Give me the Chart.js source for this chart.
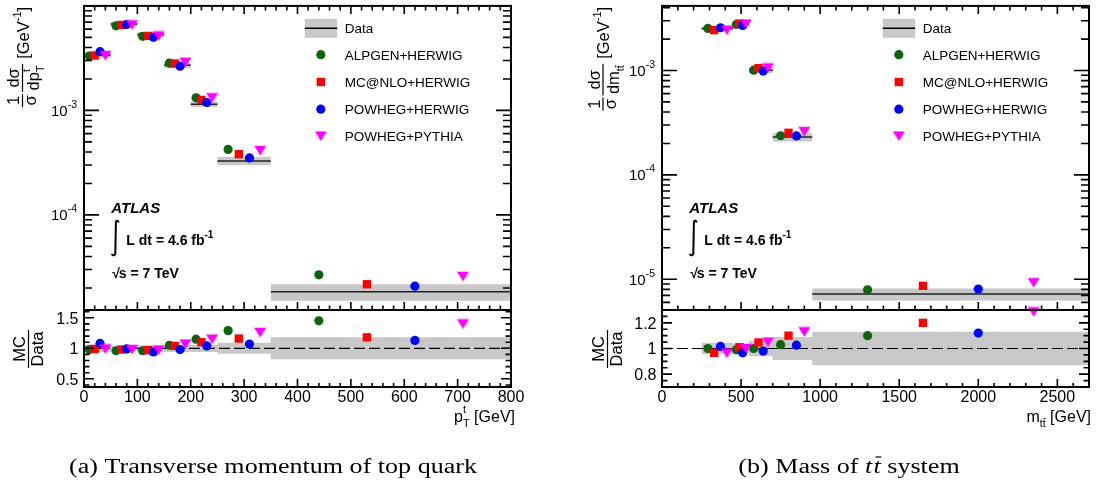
<!DOCTYPE html>
<html>
<head>
<meta charset="utf-8">
<script src="https://cdn.jsdelivr.net/npm/chart.js@4.4.1/dist/chart.umd.min.js"></script>
<style>
  html, body { margin:0; padding:0; background:#ffffff; }
  #wrap { position:relative; width:1096px; height:485px; overflow:hidden; background:#ffffff; }
  #wrap canvas { position:absolute; left:0; top:0; }
</style>
</head>
<body>
<div id="wrap">
  <canvas id="ptMain" width="1096" height="485"></canvas>
  <canvas id="ptRatio" width="1096" height="485"></canvas>
  <canvas id="mttMain" width="1096" height="485"></canvas>
  <canvas id="mttRatio" width="1096" height="485"></canvas>
</div>
<script>
// ---------------- data ----------------
const GENERATORS = ['ALPGEN+HERWIG', 'MC@NLO+HERWIG', 'POWHEG+HERWIG', 'POWHEG+PYTHIA'];
const MARKER_OFFSETS = [0.2, 0.4, 0.6, 0.8];   // position of each generator inside a bin

// (a) top quark transverse momentum
const PT_EDGES = [0, 50, 100, 150, 200, 250, 350, 800];
const PT_DATA = [3.38e-3, 6.71e-3, 5.32e-3, 2.70e-3, 1.146e-3, 3.28e-4, 1.84e-5];
const PT_DATA_UNC = [0.06, 0.04, 0.05, 0.06, 0.06, 0.09, 0.18];
const PT_ALPGEN_HERWIG = [3.31e-3, 6.44e-3, 5.11e-3, 2.84e-3, 1.32e-3, 4.23e-4, 2.67e-5];
const PT_MCNLO_HERWIG  = [3.35e-3, 6.58e-3, 5.16e-3, 2.81e-3, 1.26e-3, 3.81e-4, 2.17e-5];
const PT_POWHEG_HERWIG = [3.65e-3, 6.64e-3, 5.00e-3, 2.65e-3, 1.19e-3, 3.51e-4, 2.08e-5];
const PT_POWHEG_PYTHIA = [3.35e-3, 6.58e-3, 5.16e-3, 2.89e-3, 1.32e-3, 4.13e-4, 2.58e-5];
const PT_RATIO_ALPGEN_HERWIG = [0.98, 0.96, 0.96, 1.05, 1.15, 1.29, 1.45];
const PT_RATIO_MCNLO_HERWIG  = [0.99, 0.98, 0.97, 1.04, 1.10, 1.16, 1.18];
const PT_RATIO_POWHEG_HERWIG = [1.08, 0.99, 0.94, 0.98, 1.04, 1.07, 1.13];
const PT_RATIO_POWHEG_PYTHIA = [0.99, 0.98, 0.97, 1.07, 1.15, 1.26, 1.40];
const PT_X_TICKS = [0, 100, 200, 300, 400, 500, 600, 700, 800];
const PT_Y_DECADES = [-3, -4];
const PT_RATIO_TICKS = [0.5, 1, 1.5];

// (b) ttbar invariant mass
const MTT_EDGES = [250, 450, 550, 700, 950, 2700];
const MTT_DATA = [2.53e-3, 2.79e-3, 1.007e-3, 2.30e-4, 7.2e-6];
const MTT_DATA_UNC = [0.045, 0.035, 0.06, 0.09, 0.13];
const MTT_ALPGEN_HERWIG = [2.53e-3, 2.76e-3, 1.007e-3, 2.37e-4, 7.92e-6];
const MTT_MCNLO_HERWIG  = [2.44e-3, 2.82e-3, 1.054e-3, 2.53e-4, 8.64e-6];
const MTT_POWHEG_HERWIG = [2.57e-3, 2.70e-3, 0.987e-3, 2.36e-4, 8.06e-6];
const MTT_POWHEG_PYTHIA = [2.44e-3, 2.79e-3, 1.057e-3, 2.60e-4, 9.26e-6];
const MTT_RATIO_ALPGEN_HERWIG = [1.00, 0.99, 1.00, 1.03, 1.10];
const MTT_RATIO_MCNLO_HERWIG  = [0.966, 1.01, 1.047, 1.10, 1.20];
const MTT_RATIO_POWHEG_HERWIG = [1.016, 0.966, 0.98, 1.026, 1.12];
const MTT_RATIO_POWHEG_PYTHIA = [0.964, 1.00, 1.05, 1.13, 1.286];
const MTT_X_TICKS = [0, 500, 1000, 1500, 2000, 2500];
const MTT_Y_DECADES = [-3, -4, -5];
const MTT_RATIO_TICKS = [0.8, 1, 1.2];

const RATIO_REFERENCE = 1;

// ---------------- styling ----------------
const W = 1096, H = 485;
const SANS = '"Liberation Sans", Arial, Helvetica, sans-serif';
const SERIF = '"Liberation Serif", "Times New Roman", serif';
const BAND = '#c8c8c8';

const TRI = (() => {
  const c = document.createElement('canvas'); c.width = 13; c.height = 11;
  const g = c.getContext('2d'); g.fillStyle = '#ff00ff';
  g.beginPath(); g.moveTo(0.5, 0.7); g.lineTo(12.5, 0.7); g.lineTo(6.5, 10.6); g.closePath(); g.fill();
  return c;
})();
const STYLES = [
  { color: '#0b650b', pointStyle: 'circle', radius: 4.6 },
  { color: '#ff0000', pointStyle: 'rect', radius: 5.9 },
  { color: '#0000ff', pointStyle: 'circle', radius: 4.6 },
  { color: '#ff00ff', pointStyle: TRI, radius: 5.5 }
];

function fnt(size, weight, style, family) {
  return `${style || 'normal'} ${weight || 'normal'} ${size}px ${family || SANS}`;
}
// rich text run: items {text,size,dy,weight,style,family,overbar,after} or {sup,sub,size,supDy,subDy}
function run(ctx, items, x, y, draw) {
  let cx = x;
  for (const it of items) {
    if (it.sup !== undefined || it.sub !== undefined) {
      ctx.font = fnt(it.size || 10, it.weight, it.style, it.family);
      let w = 0;
      if (it.sup) { const ww = ctx.measureText(it.sup).width; if (draw) ctx.fillText(it.sup, cx, y + (it.supDy ?? -7)); w = Math.max(w, ww); }
      if (it.sub) { const ww = ctx.measureText(it.sub).width; if (draw) ctx.fillText(it.sub, cx, y + (it.subDy ?? 4)); w = Math.max(w, ww); }
      cx += w + (it.after || 0);
    } else {
      const size = it.size || 15;
      ctx.font = fnt(size, it.weight, it.style, it.family);
      const ww = ctx.measureText(it.text).width;
      const yy = y + (it.dy || 0);
      if (draw) {
        ctx.fillText(it.text, cx, yy);
        if (it.overbar) {
          const lw = ctx.measureText(it.text.slice(-1)).width;
          ctx.save(); ctx.lineWidth = Math.max(0.8, size * 0.06); ctx.strokeStyle = '#000';
          ctx.beginPath();
          ctx.moveTo(cx + ww - lw + size * 0.08, yy - size * 0.8);
          ctx.lineTo(cx + ww + size * 0.02, yy - size * 0.8);
          ctx.stroke(); ctx.restore();
        }
      }
      cx += ww + (it.after || 0);
    }
  }
  return cx - x;
}
function frac(ctx, num, den, x, denDy, draw) {
  const wn = run(ctx, num, 0, 0, false), wd = run(ctx, den, 0, 0, false);
  const w = Math.max(wn, wd) + 3;
  if (draw) {
    run(ctx, num, x + (w - wn) / 2, -3.5, true);
    run(ctx, den, x + (w - wd) / 2, denDy, true);
    ctx.save(); ctx.lineWidth = 1.2; ctx.strokeStyle = '#000';
    ctx.beginPath(); ctx.moveTo(x, 0); ctx.lineTo(x + w, 0); ctx.stroke(); ctx.restore();
  }
  return w;
}
function drawMarker(ctx, st, x, y) {
  ctx.save();
  ctx.fillStyle = st.color;
  if (st.pointStyle instanceof HTMLCanvasElement) {
    ctx.drawImage(st.pointStyle, x - st.pointStyle.width / 2, y - st.pointStyle.height / 2);
  } else if (st.pointStyle === 'rect') {
    const s = st.radius * Math.SQRT1_2;
    ctx.fillRect(x - s, y - s, 2 * s, 2 * s);
  } else {
    ctx.beginPath(); ctx.arc(x, y, st.radius, 0, Math.PI * 2); ctx.fill();
  }
  ctx.restore();
}

// ---------------- dataset builders ----------------
function stepBand(edges, center, unc, sign) {
  const pts = [];
  for (let i = 0; i < unc.length; i++) {
    const c = Array.isArray(center) ? center[i] : center;
    const y = c * (1 + sign * unc[i]);
    pts.push({ x: edges[i], y }, { x: edges[i + 1], y });
  }
  return pts;
}
function segments(edges, vals) {
  const pts = [];
  for (let i = 0; i < vals.length; i++) {
    pts.push({ x: edges[i], y: vals[i] }, { x: edges[i + 1], y: vals[i] }, { x: edges[i + 1], y: null });
  }
  return pts;
}
function markerPoints(edges, vals, g) {
  return vals.map((v, i) => ({ x: edges[i] + MARKER_OFFSETS[g] * (edges[i + 1] - edges[i]), y: v }));
}
function bandDatasets(upper, lower) {
  return [
    { data: upper, fill: '+1', backgroundColor: BAND, borderWidth: 0, pointRadius: 0, order: 10 },
    { data: lower, fill: false, borderWidth: 0, pointRadius: 0, order: 11 }
  ];
}
function markerDatasets(edges, series) {
  return series.map((vals, g) => ({
    label: GENERATORS[g],
    data: markerPoints(edges, vals, g),
    showLine: false,
    pointStyle: STYLES[g].pointStyle,
    pointRadius: STYLES[g].radius,
    pointHoverRadius: STYLES[g].radius,
    pointBackgroundColor: STYLES[g].color,
    pointBorderWidth: 0,
    borderWidth: 0,
    clip: false,
    order: 4 - g
  }));
}

// ---------------- panels ----------------
const PANELS = [
  {
    main: 'ptMain', ratio: 'ptRatio', L: 84, R: 511,
    edges: PT_EDGES, data: PT_DATA, unc: PT_DATA_UNC,
    mc: [PT_ALPGEN_HERWIG, PT_MCNLO_HERWIG, PT_POWHEG_HERWIG, PT_POWHEG_PYTHIA],
    rat: [PT_RATIO_ALPGEN_HERWIG, PT_RATIO_MCNLO_HERWIG, PT_RATIO_POWHEG_HERWIG, PT_RATIO_POWHEG_PYTHIA],
    xMax: 800, xMajor: 100, xMinor: 20, xTicks: PT_X_TICKS,
    yMin: 1.23e-5, yMax: 1e-2, decades: PT_Y_DECADES,
    rMin: 0.366, rMax: 1.628, rMajor: 0.5, rMinor: 0.1, rTicks: PT_RATIO_TICKS,
    titleCx: 22.5, ratioTitleCx: 28.5,
    den2: [{ text: 'dp', size: 16.5 }, { sup: 't', sub: 'T', size: 11, supDy: -8.5, subDy: 5 }],
    xTitle: [{ text: 'p', size: 16 }, { sup: 't', sub: 'T', size: 11, supDy: -9, subDy: 5 }, { text: ' [GeV]', size: 16 }],
    xTitleRight: 515,
    caption: [{ text: '(a) Transverse momentum of top quark', family: SERIF, size: 20 }],
    captionCx: 273
  },
  {
    main: 'mttMain', ratio: 'mttRatio', L: 662, R: 1089,
    edges: MTT_EDGES, data: MTT_DATA, unc: MTT_DATA_UNC,
    mc: [MTT_ALPGEN_HERWIG, MTT_MCNLO_HERWIG, MTT_POWHEG_HERWIG, MTT_POWHEG_PYTHIA],
    rat: [MTT_RATIO_ALPGEN_HERWIG, MTT_RATIO_MCNLO_HERWIG, MTT_RATIO_POWHEG_HERWIG, MTT_RATIO_POWHEG_PYTHIA],
    xMax: 2700, xMajor: 500, xMinor: 100, xTicks: MTT_X_TICKS,
    yMin: 5.07e-6, yMax: 4.16e-3, decades: MTT_Y_DECADES,
    rMin: 0.7, rMax: 1.3, rMajor: 0.2, rMinor: 0.05, rTicks: MTT_RATIO_TICKS,
    titleCx: 603, ratioTitleCx: 607.5,
    den2: [{ text: 'dm', size: 16.5 }, { text: 'tt', size: 10.5, dy: 5, overbar: true }],
    xTitle: [{ text: 'm', size: 16 }, { text: 'tt', size: 10.5, dy: 5, overbar: true }, { text: ' [GeV]', size: 16 }],
    xTitleRight: 1091,
    caption: [
      { text: '(b) Mass of ', family: SERIF, size: 20 },
      { text: 't', family: SERIF, size: 20, style: 'italic', after: 1 },
      { text: 't', family: SERIF, size: 20, style: 'italic', overbar: true },
      { text: ' system', family: SERIF, size: 20 }
    ],
    captionCx: 849
  }
];
const CAPTION_A = PANELS[0].caption;
const CAPTION_A_WIDTH = 408;
const T_MAIN = 4, Y_SPLIT = 310, B_RATIO = 387;

function isMultiple(v, step) { return Math.abs(v / step - Math.round(v / step)) < 1e-6; }

function xTickMarks(ctx, xs, P, a, top, bottom, maj, min) {
  for (let v = 0; v <= P.xMax + 1e-9; v += P.xMinor) {
    const px = xs.getPixelForValue(v);
    const len = isMultiple(v, P.xMajor) ? maj : min;
    if (top) { ctx.moveTo(px, a.top); ctx.lineTo(px, a.top + len); }
    if (bottom) { ctx.moveTo(px, a.bottom); ctx.lineTo(px, a.bottom - len); }
  }
}

function mainDecor(P) {
  return {
    id: 'mainDecor',
    afterDatasetsDraw(chart) {
      const ctx = chart.ctx, a = chart.chartArea, xs = chart.scales.x, ys = chart.scales.y;
      const Wd = a.right - a.left;
      ctx.save();
      ctx.fillStyle = '#000'; ctx.strokeStyle = '#000';
      ctx.textAlign = 'left'; ctx.textBaseline = 'alphabetic';
      // frame
      ctx.lineWidth = 2;
      ctx.strokeRect(a.left, a.top, a.right - a.left, a.bottom - a.top);
      // ticks
      ctx.lineWidth = 1.6;
      ctx.beginPath();
      xTickMarks(ctx, xs, P, a, true, true, 8, 4.5);
      const e0 = Math.floor(Math.log10(P.yMin)), e1 = Math.ceil(Math.log10(P.yMax));
      for (let e = e0; e <= e1; e++) {
        for (let k = 1; k <= 9; k++) {
          const v = k * Math.pow(10, e);
          if (v < P.yMin * 0.9999 || v > P.yMax * 1.0001) continue;
          const py = ys.getPixelForValue(v);
          const len = k === 1 ? 15 : 8;
          ctx.moveTo(a.left, py); ctx.lineTo(a.left + len, py);
          ctx.moveTo(a.right, py); ctx.lineTo(a.right - len, py);
        }
      }
      ctx.stroke();
      // y labels 10^e
      for (const e of P.decades) {
        const py = ys.getPixelForValue(Math.pow(10, e));
        if (py < a.top + 4 || py > a.bottom - 2) continue;
        const items = [{ text: '10', size: 15 }, { sup: String(e), size: 10.5, supDy: -8 }];
        const w = run(ctx, items, 0, 0, false);
        run(ctx, items, a.left - 7 - w, py + 5.5, true);
      }
      // y title
      const seq = (draw) => {
        let x = 0;
        x += frac(ctx, [{ text: '1', size: 16.5 }], [{ text: 'σ', size: 16.5 }], x, 13, draw);
        x += 2;
        x += frac(ctx, [{ text: 'dσ', size: 16.5 }], P.den2, x, 16, draw);
        x += 5;
        x += run(ctx, [{ text: '[GeV', size: 16.5 }, { sup: '-1', size: 11, supDy: -8 }, { text: ']', size: 16.5 }], x, 6, draw);
        return x;
      };
      const total = seq(false);
      ctx.save(); ctx.translate(P.titleCx, a.top + 1 + total); ctx.rotate(-Math.PI / 2); seq(true); ctx.restore();
      // legend
      const bx0 = a.left + 0.517 * Wd, bx1 = a.left + 0.593 * Wd;
      const mx = a.left + 0.5546 * Wd, tx = a.left + 0.6105 * Wd;
      ctx.fillStyle = BAND; ctx.fillRect(bx0, 18.8, bx1 - bx0, 19);
      ctx.strokeStyle = '#000'; ctx.lineWidth = 1.5;
      ctx.beginPath(); ctx.moveTo(bx0, 28.3); ctx.lineTo(bx1, 28.3); ctx.stroke();
      ctx.fillStyle = '#000';
      ctx.font = fnt(13.5);
      ctx.fillText('Data', tx, 28.3 + 5);
      const rows = [54.7, 82, 109.2, 136.1];
      GENERATORS.forEach((name, g) => {
        drawMarker(ctx, STYLES[g], mx, rows[g]);
        ctx.fillStyle = '#000'; ctx.font = fnt(13.5);
        ctx.fillText(name, tx, rows[g] + 5);
      });
      // ATLAS label
      const ax = a.left + 0.064 * Wd;
      ctx.font = fnt(15, 'bold', 'italic');
      ctx.fillText('ATLAS', ax, 213);
      // integral sign
      const ix = a.left + 0.071 * Wd;
      ctx.lineWidth = 2; ctx.beginPath();
      ctx.moveTo(ix + 4.4, 222.5);
      ctx.quadraticCurveTo(ix + 3.2, 219.5, ix + 1.6, 221.5);
      ctx.lineTo(ix + 1.0, 253.5);
      ctx.quadraticCurveTo(ix - 0.5, 257, ix - 2.8, 254);
      ctx.stroke();
      run(ctx, [{ text: 'L dt = 4.6 fb', size: 14, weight: 'bold' }, { sup: '-1', size: 10, weight: 'bold', supDy: -7 }],
        a.left + 0.0992 * Wd, 245, true);
      run(ctx, [{ text: '√', size: 14, weight: 'bold', after: -1 }, { text: 's = 7 TeV', size: 14, weight: 'bold' }],
        a.left + 0.066 * Wd, 278, true);
      ctx.restore();
    }
  };
}

function ratioDecor(P) {
  return {
    id: 'ratioDecor',
    afterDatasetsDraw(chart) {
      const ctx = chart.ctx, a = chart.chartArea, xs = chart.scales.x, ys = chart.scales.y;
      ctx.save();
      ctx.fillStyle = '#000'; ctx.strokeStyle = '#000';
      ctx.textAlign = 'left'; ctx.textBaseline = 'alphabetic';
      ctx.lineWidth = 2;
      ctx.strokeRect(a.left, a.top, a.right - a.left, a.bottom - a.top);
      ctx.lineWidth = 1.6;
      ctx.beginPath();
      xTickMarks(ctx, xs, P, a, false, true, 8, 4);
      const start = Math.ceil(P.rMin / P.rMinor - 1e-6);
      for (let k = start; k * P.rMinor <= P.rMax + 1e-9; k++) {
        const v = k * P.rMinor;
        const py = ys.getPixelForValue(v);
        const len = isMultiple(v, P.rMajor) ? 10 : 5.5;
        ctx.moveTo(a.left, py); ctx.lineTo(a.left + len, py);
        ctx.moveTo(a.right, py); ctx.lineTo(a.right - len, py);
      }
      ctx.stroke();
      // y labels
      ctx.font = fnt(16);
      ctx.textAlign = 'right';
      for (const v of P.rTicks) {
        ctx.fillText(String(v), a.left - 5.5, ys.getPixelForValue(v) + 5.8);
      }
      // x labels
      ctx.textAlign = 'center';
      for (const v of P.xTicks) {
        ctx.fillText(String(v), xs.getPixelForValue(v), 402);
      }
      ctx.textAlign = 'left';
      // x title
      const wt = run(ctx, P.xTitle, 0, 0, false);
      run(ctx, P.xTitle, P.xTitleRight - wt, 422, true);
      // ratio title
      const wr = frac(ctx, [{ text: 'MC', size: 16.5 }], [{ text: 'Data', size: 16.5 }], 0, 14, false);
      ctx.save(); ctx.translate(P.ratioTitleCx, 349 + wr / 2); ctx.rotate(-Math.PI / 2);
      frac(ctx, [{ text: 'MC', size: 16.5 }], [{ text: 'Data', size: 16.5 }], 0, 14, true);
      ctx.restore();
      // caption
      const sx = CAPTION_A_WIDTH / run(ctx, CAPTION_A, 0, 0, false);
      const wc = run(ctx, P.caption, 0, 0, false) * sx;
      ctx.save(); ctx.translate(P.captionCx - wc / 2, 473); ctx.scale(sx, 1);
      run(ctx, P.caption, 0, 0, true);
      ctx.restore();
      ctx.restore();
    }
  };
}

function baseOptions(P, pad, yScale) {
  return {
    responsive: false, animation: false, events: [],
    layout: { padding: pad },
    scales: { x: { type: 'linear', min: 0, max: P.xMax, display: false }, y: yScale },
    plugins: { legend: { display: false }, tooltip: { enabled: false } },
    elements: { line: { tension: 0 } }
  };
}

for (const P of PANELS) {
  // main (log) plot
  const mainSets = [
    ...bandDatasets(stepBand(P.edges, P.data, P.unc, +1), stepBand(P.edges, P.data, P.unc, -1)),
    { data: segments(P.edges, P.data), borderColor: '#222222', borderWidth: 1.5, pointRadius: 0, fill: false, spanGaps: false, order: 9 },
    ...markerDatasets(P.edges, P.mc)
  ];
  new Chart(document.getElementById(P.main), {
    type: 'line',
    data: { datasets: mainSets },
    options: baseOptions(P, { left: P.L, right: W - P.R, top: T_MAIN, bottom: H - Y_SPLIT },
      { type: 'logarithmic', min: P.yMin, max: P.yMax, display: false }),
    plugins: [mainDecor(P)]
  });
  // ratio plot
  const ratioSets = [
    ...bandDatasets(stepBand(P.edges, RATIO_REFERENCE, P.unc, +1), stepBand(P.edges, RATIO_REFERENCE, P.unc, -1)),
    { data: [{ x: 0, y: RATIO_REFERENCE }, { x: P.xMax, y: RATIO_REFERENCE }], borderColor: '#000000', borderWidth: 1.2,
      borderDash: [11, 4], pointRadius: 0, fill: false, order: 9 },
    ...markerDatasets(P.edges, P.rat)
  ];
  new Chart(document.getElementById(P.ratio), {
    type: 'line',
    data: { datasets: ratioSets },
    options: baseOptions(P, { left: P.L, right: W - P.R, top: Y_SPLIT, bottom: H - B_RATIO },
      { type: 'linear', min: P.rMin, max: P.rMax, display: false }),
    plugins: [ratioDecor(P)]
  });
}
</script>
</body>
</html>
